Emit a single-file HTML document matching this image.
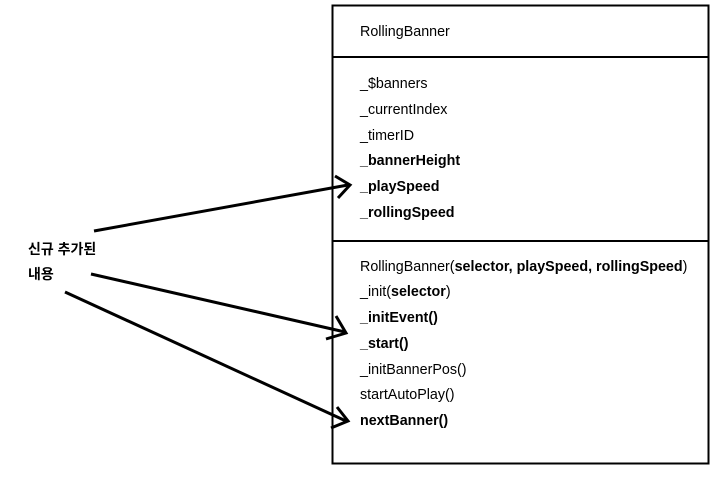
<!DOCTYPE html>
<html><head><meta charset="utf-8"><style>
body{margin:0;background:#fff;width:720px;height:478px;overflow:hidden;position:relative;font-family:"Liberation Sans","Noto Sans CJK KR",sans-serif;font-size:14.3px;color:#000}
.t{position:absolute;left:360px;line-height:16px;white-space:nowrap}
b{font-weight:bold}
.k{font-weight:bold;font-size:14px}
</style></head><body>
<svg width="720" height="478" style="position:absolute;left:0;top:0">
<rect x="332.5" y="5.5" width="376" height="458" fill="none" stroke="#000" stroke-width="2"/>
<line x1="332" y1="57" x2="709" y2="57" stroke="#000" stroke-width="2"/>
<line x1="332" y1="241" x2="709" y2="241" stroke="#000" stroke-width="2"/>
<g stroke="#000" stroke-width="3" fill="none">
<line x1="94" y1="231" x2="348" y2="185"/>
<polyline points="335,176 350,185 338,198"/>
<line x1="91" y1="274" x2="345" y2="332"/>
<polyline points="336,316 346,333 326,339"/>
<line x1="65" y1="292" x2="346" y2="421"/>
<polyline points="337,407 348,421 331,428"/>
</g>
</svg>
<div class="t k" style="left:28px;top:241px">신규 추가된</div>
<div class="t k" style="left:28px;top:266px">내용</div>
<div class="t" style="top:24px">RollingBanner</div>
<div class="t" style="top:76px">_$banners</div>
<div class="t" style="top:102px">_currentIndex</div>
<div class="t" style="top:128px">_timerID</div>
<div class="t" style="top:153px"><b>_bannerHeight</b></div>
<div class="t" style="top:179px"><b>_playSpeed</b></div>
<div class="t" style="top:205px"><b>_rollingSpeed</b></div>
<div class="t" style="top:259px">RollingBanner(<b>selector, playSpeed, rollingSpeed</b>)</div>
<div class="t" style="top:284px">_init(<b>selector</b>)</div>
<div class="t" style="top:310px"><b>_initEvent()</b></div>
<div class="t" style="top:336px"><b>_start()</b></div>
<div class="t" style="top:362px">_initBannerPos()</div>
<div class="t" style="top:387px">startAutoPlay()</div>
<div class="t" style="top:413px"><b>nextBanner()</b></div>
</body></html>
